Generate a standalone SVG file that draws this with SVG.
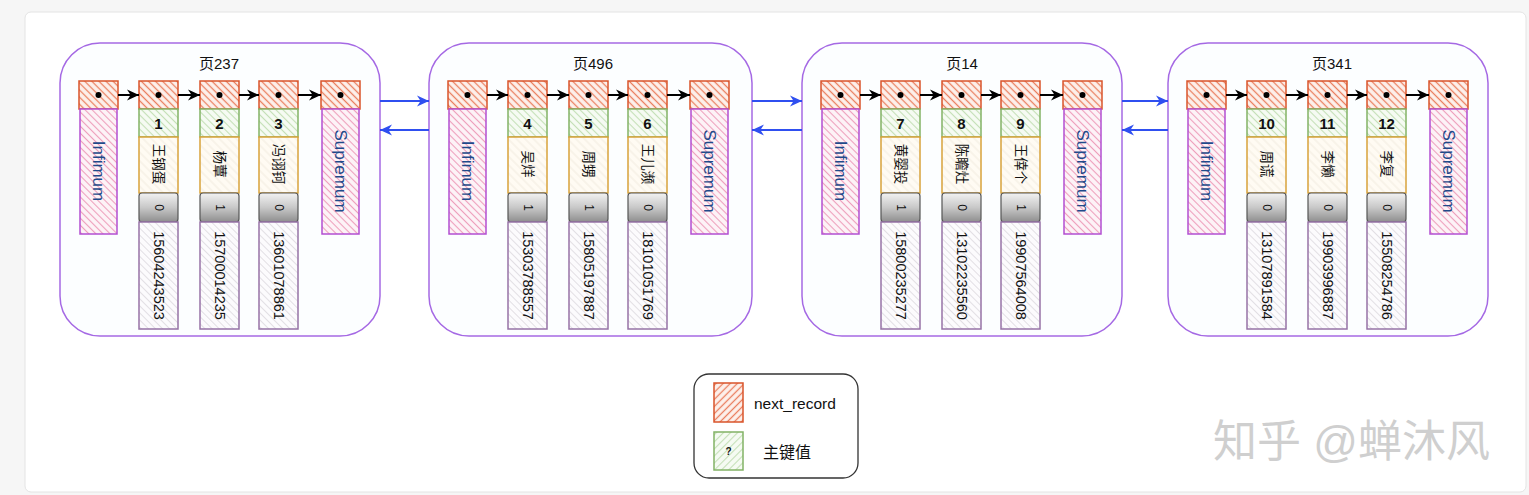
<svg xmlns="http://www.w3.org/2000/svg" width="1529" height="495" viewBox="0 0 1529 495">
<defs>
<pattern id="pRed" width="5" height="5" patternUnits="userSpaceOnUse" patternTransform="rotate(45)"><rect width="5" height="5" fill="#fdf1ec"/><line x1="0" y1="2.5" x2="5" y2="2.5" stroke="#ea7f5f" stroke-width="1.3"/></pattern>
<pattern id="pRedL" width="5" height="5" patternUnits="userSpaceOnUse" patternTransform="rotate(-45)"><rect width="5" height="5" fill="#fdf1ec"/><line x1="0" y1="2.5" x2="5" y2="2.5" stroke="#ea7f5f" stroke-width="1.3"/></pattern>
<pattern id="pPink" width="5" height="5" patternUnits="userSpaceOnUse" patternTransform="rotate(45)"><rect width="5" height="5" fill="#fdf3f7"/><line x1="0" y1="2.5" x2="5" y2="2.5" stroke="#ee9fbc" stroke-width="1.1"/></pattern>
<pattern id="pGreen" width="5" height="5" patternUnits="userSpaceOnUse" patternTransform="rotate(45)"><rect width="5" height="5" fill="#f6fbf3"/><line x1="0" y1="2.5" x2="5" y2="2.5" stroke="#c4e0b6" stroke-width="1.1"/></pattern>
<pattern id="pGreenL" width="5" height="5" patternUnits="userSpaceOnUse" patternTransform="rotate(-45)"><rect width="5" height="5" fill="#f6fbf3"/><line x1="0" y1="2.5" x2="5" y2="2.5" stroke="#c4e0b6" stroke-width="1.1"/></pattern>
<pattern id="pCream" width="6" height="6" patternUnits="userSpaceOnUse" patternTransform="rotate(45)"><rect width="6" height="6" fill="#fffbf3"/><line x1="0" y1="3" x2="6" y2="3" stroke="#f1ebe0" stroke-width="1"/></pattern>
<pattern id="pGrey" width="5" height="5" patternUnits="userSpaceOnUse" patternTransform="rotate(45)"><rect width="5" height="5" fill="#fcfbfd"/><line x1="0" y1="2.5" x2="5" y2="2.5" stroke="#e2dfe4" stroke-width="1"/></pattern>
<linearGradient id="gGray" x1="0" y1="0" x2="0" y2="1"><stop offset="0" stop-color="#f2f2f2"/><stop offset="0.5" stop-color="#c8c8c8"/><stop offset="1" stop-color="#8e8e8e"/></linearGradient>
<marker id="mBlack" markerWidth="12" markerHeight="12" viewBox="0 0 10 10" refX="10" refY="5" orient="auto" markerUnits="userSpaceOnUse"><path d="M0,0.5 L10,5 L0,9.5 L3,5 z" fill="#000"/></marker>
<marker id="mBlue" markerWidth="12" markerHeight="12" viewBox="0 0 10 10" refX="10" refY="5" orient="auto" markerUnits="userSpaceOnUse"><path d="M0,0.5 L10,5 L0,9.5 L3,5 z" fill="#2f4ff0"/></marker>
<style>
.pg{fill:#fcfeff;stroke:#a569e4;stroke-width:1.5}
.hd{fill:url(#pRed);stroke:#d9542b;stroke-width:1.5}
.inf{fill:url(#pPink);stroke:#b24fd2;stroke-width:1.5}
.key{fill:url(#pGreen);stroke:#82b366;stroke-width:1.5}
.nm{fill:url(#pCream);stroke:#d8a33b;stroke-width:1.5}
.fl{fill:url(#gGray);stroke:#555;stroke-width:1.2}
.ph{fill:url(#pGrey);stroke:#9673a6;stroke-width:1.5}
.dot{fill:#000}
text{font-family:"Liberation Sans","Noto Sans CJK SC",sans-serif;fill:#111}
.ti{font-size:15px;text-anchor:middle;dominant-baseline:central}
.tk{font-size:15px;font-weight:bold;text-anchor:middle}
.tn{font-size:13.5px;text-anchor:middle;dominant-baseline:central}
.tf{font-size:12px;text-anchor:middle;dominant-baseline:central}
.tp{font-size:14.5px;text-anchor:middle;dominant-baseline:central}
.ts{font-size:17px;text-anchor:middle;dominant-baseline:central;fill:#1f4a8a}
.arr{stroke:#000;stroke-width:2;fill:none;marker-end:url(#mBlack)}
.barr{stroke:#2f4ff0;stroke-width:2;fill:none;marker-end:url(#mBlue)}
</style>
</defs>
<rect x="0" y="0" width="1529" height="495" fill="#f6f6f6"/>
<rect x="25" y="12" width="1501" height="480" rx="6" fill="#ffffff" stroke="#e4e4e4" stroke-width="1"/>

<!-- Page 237 -->
<g id="page237">
<rect class="pg" x="60" y="43" width="320" height="293" rx="40"/>
<text class="ti" x="219" y="63">页237</text>
<g id="inf1"><rect class="hd" x="79" y="81" width="39" height="28"/><circle class="dot" cx="98.5" cy="95" r="3"/><rect class="inf" x="80" y="109" width="37" height="125"/><text class="ts" x="98.5" y="171" transform="rotate(90 98.5 171)">Infimum</text></g>
<g id="rec1"><rect class="hd" x="139" y="81" width="39" height="28"/><circle class="dot" cx="158.5" cy="95" r="3"/><rect class="key" x="139" y="109" width="39" height="28"/><text class="tk" x="158.5" y="128.5">1</text><rect class="nm" x="139" y="137" width="39" height="56"/><text class="tn" x="158.5" y="164" transform="rotate(90 158.5 164)">王钢蛋</text><rect class="fl" x="139" y="193" width="39" height="29" rx="3"/><text class="tf" x="158.5" y="207.5" transform="rotate(90 158.5 207.5)">0</text><rect class="ph" x="139" y="222" width="39" height="107"/><text class="tp" x="158.5" y="275.5" transform="rotate(90 158.5 275.5)">15604243523</text></g>
<g id="rec2"><rect class="hd" x="200" y="81" width="39" height="28"/><circle class="dot" cx="219.5" cy="95" r="3"/><rect class="key" x="200" y="109" width="39" height="28"/><text class="tk" x="219.5" y="128.5">2</text><rect class="nm" x="200" y="137" width="39" height="56"/><text class="tn" x="219.5" y="164" transform="rotate(90 219.5 164)">杨蕈</text><rect class="fl" x="200" y="193" width="39" height="29" rx="3"/><text class="tf" x="219.5" y="207.5" transform="rotate(90 219.5 207.5)">1</text><rect class="ph" x="200" y="222" width="39" height="107"/><text class="tp" x="219.5" y="275.5" transform="rotate(90 219.5 275.5)">15700014235</text></g>
<g id="rec3"><rect class="hd" x="259" y="81" width="39" height="28"/><circle class="dot" cx="278.5" cy="95" r="3"/><rect class="key" x="259" y="109" width="39" height="28"/><text class="tk" x="278.5" y="128.5">3</text><rect class="nm" x="259" y="137" width="39" height="56"/><text class="tn" x="278.5" y="164" transform="rotate(90 278.5 164)">冯诩钶</text><rect class="fl" x="259" y="193" width="39" height="29" rx="3"/><text class="tf" x="278.5" y="207.5" transform="rotate(90 278.5 207.5)">0</text><rect class="ph" x="259" y="222" width="39" height="107"/><text class="tp" x="278.5" y="275.5" transform="rotate(90 278.5 275.5)">13601078861</text></g>
<g id="sup1"><rect class="hd" x="321" y="81" width="39" height="28"/><circle class="dot" cx="340.5" cy="95" r="3"/><rect class="inf" x="322" y="109" width="37" height="125"/><text class="ts" x="340.5" y="171" transform="rotate(90 340.5 171)">Supremum</text></g>
</g>

<!-- Page 496 -->
<g id="page496">
<rect class="pg" x="429" y="43" width="323" height="293" rx="40"/>
<text class="ti" x="593" y="63">页496</text>
<g id="inf2"><rect class="hd" x="448" y="81" width="39" height="28"/><circle class="dot" cx="467.5" cy="95" r="3"/><rect class="inf" x="449" y="109" width="37" height="125"/><text class="ts" x="467.5" y="171" transform="rotate(90 467.5 171)">Infimum</text></g>
<g id="rec4"><rect class="hd" x="508" y="81" width="39" height="28"/><circle class="dot" cx="527.5" cy="95" r="3"/><rect class="key" x="508" y="109" width="39" height="28"/><text class="tk" x="527.5" y="128.5">4</text><rect class="nm" x="508" y="137" width="39" height="56"/><text class="tn" x="527.5" y="164" transform="rotate(90 527.5 164)">吴烊</text><rect class="fl" x="508" y="193" width="39" height="29" rx="3"/><text class="tf" x="527.5" y="207.5" transform="rotate(90 527.5 207.5)">1</text><rect class="ph" x="508" y="222" width="39" height="107"/><text class="tp" x="527.5" y="275.5" transform="rotate(90 527.5 275.5)">15303788557</text></g>
<g id="rec5"><rect class="hd" x="569" y="81" width="39" height="28"/><circle class="dot" cx="588.5" cy="95" r="3"/><rect class="key" x="569" y="109" width="39" height="28"/><text class="tk" x="588.5" y="128.5">5</text><rect class="nm" x="569" y="137" width="39" height="56"/><text class="tn" x="588.5" y="164" transform="rotate(90 588.5 164)">周甥</text><rect class="fl" x="569" y="193" width="39" height="29" rx="3"/><text class="tf" x="588.5" y="207.5" transform="rotate(90 588.5 207.5)">1</text><rect class="ph" x="569" y="222" width="39" height="107"/><text class="tp" x="588.5" y="275.5" transform="rotate(90 588.5 275.5)">15805197887</text></g>
<g id="rec6"><rect class="hd" x="628" y="81" width="39" height="28"/><circle class="dot" cx="647.5" cy="95" r="3"/><rect class="key" x="628" y="109" width="39" height="28"/><text class="tk" x="647.5" y="128.5">6</text><rect class="nm" x="628" y="137" width="39" height="56"/><text class="tn" x="647.5" y="164" transform="rotate(90 647.5 164)">王儿濒</text><rect class="fl" x="628" y="193" width="39" height="29" rx="3"/><text class="tf" x="647.5" y="207.5" transform="rotate(90 647.5 207.5)">0</text><rect class="ph" x="628" y="222" width="39" height="107"/><text class="tp" x="647.5" y="275.5" transform="rotate(90 647.5 275.5)">18101051769</text></g>
<g id="sup2"><rect class="hd" x="690" y="81" width="39" height="28"/><circle class="dot" cx="709.5" cy="95" r="3"/><rect class="inf" x="691" y="109" width="37" height="125"/><text class="ts" x="709.5" y="171" transform="rotate(90 709.5 171)">Supremum</text></g>
</g>

<!-- Page 14 -->
<g id="page14">
<rect class="pg" x="802" y="43" width="320" height="293" rx="40"/>
<text class="ti" x="962" y="63">页14</text>
<g id="inf3"><rect class="hd" x="821" y="81" width="39" height="28"/><circle class="dot" cx="840.5" cy="95" r="3"/><rect class="inf" x="822" y="109" width="37" height="125"/><text class="ts" x="840.5" y="171" transform="rotate(90 840.5 171)">Infimum</text></g>
<g id="rec7"><rect class="hd" x="881" y="81" width="39" height="28"/><circle class="dot" cx="900.5" cy="95" r="3"/><rect class="key" x="881" y="109" width="39" height="28"/><text class="tk" x="900.5" y="128.5">7</text><rect class="nm" x="881" y="137" width="39" height="56"/><text class="tn" x="900.5" y="164" transform="rotate(90 900.5 164)">黄婴投</text><rect class="fl" x="881" y="193" width="39" height="29" rx="3"/><text class="tf" x="900.5" y="207.5" transform="rotate(90 900.5 207.5)">1</text><rect class="ph" x="881" y="222" width="39" height="107"/><text class="tp" x="900.5" y="275.5" transform="rotate(90 900.5 275.5)">15800235277</text></g>
<g id="rec8"><rect class="hd" x="942" y="81" width="39" height="28"/><circle class="dot" cx="961.5" cy="95" r="3"/><rect class="key" x="942" y="109" width="39" height="28"/><text class="tk" x="961.5" y="128.5">8</text><rect class="nm" x="942" y="137" width="39" height="56"/><text class="tn" x="961.5" y="164" transform="rotate(90 961.5 164)">陈瞻灶</text><rect class="fl" x="942" y="193" width="39" height="29" rx="3"/><text class="tf" x="961.5" y="207.5" transform="rotate(90 961.5 207.5)">0</text><rect class="ph" x="942" y="222" width="39" height="107"/><text class="tp" x="961.5" y="275.5" transform="rotate(90 961.5 275.5)">13102235560</text></g>
<g id="rec9"><rect class="hd" x="1001" y="81" width="39" height="28"/><circle class="dot" cx="1020.5" cy="95" r="3"/><rect class="key" x="1001" y="109" width="39" height="28"/><text class="tk" x="1020.5" y="128.5">9</text><rect class="nm" x="1001" y="137" width="39" height="56"/><text class="tn" x="1020.5" y="164" transform="rotate(90 1020.5 164)">王倖个</text><rect class="fl" x="1001" y="193" width="39" height="29" rx="3"/><text class="tf" x="1020.5" y="207.5" transform="rotate(90 1020.5 207.5)">1</text><rect class="ph" x="1001" y="222" width="39" height="107"/><text class="tp" x="1020.5" y="275.5" transform="rotate(90 1020.5 275.5)">19907564008</text></g>
<g id="sup3"><rect class="hd" x="1063" y="81" width="39" height="28"/><circle class="dot" cx="1082.5" cy="95" r="3"/><rect class="inf" x="1064" y="109" width="37" height="125"/><text class="ts" x="1082.5" y="171" transform="rotate(90 1082.5 171)">Supremum</text></g>
</g>

<!-- Page 341 -->
<g id="page341">
<rect class="pg" x="1168" y="43" width="320" height="293" rx="40"/>
<text class="ti" x="1332" y="63">页341</text>
<g id="inf4"><rect class="hd" x="1187" y="81" width="39" height="28"/><circle class="dot" cx="1206.5" cy="95" r="3"/><rect class="inf" x="1188" y="109" width="37" height="125"/><text class="ts" x="1206.5" y="171" transform="rotate(90 1206.5 171)">Infimum</text></g>
<g id="rec10"><rect class="hd" x="1247" y="81" width="39" height="28"/><circle class="dot" cx="1266.5" cy="95" r="3"/><rect class="key" x="1247" y="109" width="39" height="28"/><text class="tk" x="1266.5" y="128.5">10</text><rect class="nm" x="1247" y="137" width="39" height="56"/><text class="tn" x="1266.5" y="164" transform="rotate(90 1266.5 164)">周谎</text><rect class="fl" x="1247" y="193" width="39" height="29" rx="3"/><text class="tf" x="1266.5" y="207.5" transform="rotate(90 1266.5 207.5)">0</text><rect class="ph" x="1247" y="222" width="39" height="107"/><text class="tp" x="1266.5" y="275.5" transform="rotate(90 1266.5 275.5)">13107891584</text></g>
<g id="rec11"><rect class="hd" x="1308" y="81" width="39" height="28"/><circle class="dot" cx="1327.5" cy="95" r="3"/><rect class="key" x="1308" y="109" width="39" height="28"/><text class="tk" x="1327.5" y="128.5">11</text><rect class="nm" x="1308" y="137" width="39" height="56"/><text class="tn" x="1327.5" y="164" transform="rotate(90 1327.5 164)">李懒</text><rect class="fl" x="1308" y="193" width="39" height="29" rx="3"/><text class="tf" x="1327.5" y="207.5" transform="rotate(90 1327.5 207.5)">0</text><rect class="ph" x="1308" y="222" width="39" height="107"/><text class="tp" x="1327.5" y="275.5" transform="rotate(90 1327.5 275.5)">19903996887</text></g>
<g id="rec12"><rect class="hd" x="1367" y="81" width="39" height="28"/><circle class="dot" cx="1386.5" cy="95" r="3"/><rect class="key" x="1367" y="109" width="39" height="28"/><text class="tk" x="1386.5" y="128.5">12</text><rect class="nm" x="1367" y="137" width="39" height="56"/><text class="tn" x="1386.5" y="164" transform="rotate(90 1386.5 164)">李复</text><rect class="fl" x="1367" y="193" width="39" height="29" rx="3"/><text class="tf" x="1386.5" y="207.5" transform="rotate(90 1386.5 207.5)">0</text><rect class="ph" x="1367" y="222" width="39" height="107"/><text class="tp" x="1386.5" y="275.5" transform="rotate(90 1386.5 275.5)">15508254786</text></g>
<g id="sup4"><rect class="hd" x="1429" y="81" width="39" height="28"/><circle class="dot" cx="1448.5" cy="95" r="3"/><rect class="inf" x="1430" y="109" width="37" height="125"/><text class="ts" x="1448.5" y="171" transform="rotate(90 1448.5 171)">Supremum</text></g>
</g>

<g id="connectors">
<path class="arr" d="M118,95 H139"/><path class="arr" d="M178,95 H200"/><path class="arr" d="M239,95 H259"/><path class="arr" d="M298,95 H321"/>
<path class="arr" d="M487,95 H508"/><path class="arr" d="M547,95 H569"/><path class="arr" d="M608,95 H628"/><path class="arr" d="M667,95 H690"/>
<path class="arr" d="M860,95 H881"/><path class="arr" d="M920,95 H942"/><path class="arr" d="M981,95 H1001"/><path class="arr" d="M1040,95 H1063"/>
<path class="arr" d="M1226,95 H1247"/><path class="arr" d="M1286,95 H1308"/><path class="arr" d="M1347,95 H1367"/><path class="arr" d="M1406,95 H1429"/>
<path class="barr" d="M380,101 H429"/><path class="barr" d="M429,130 H380"/>
<path class="barr" d="M752,101 H802"/><path class="barr" d="M802,130 H752"/>
<path class="barr" d="M1122,101 H1168"/><path class="barr" d="M1168,130 H1122"/>
</g>

<g id="legend">
<rect x="694" y="374" width="164" height="104" rx="15" fill="#ffffff" stroke="#333333" stroke-width="1.3"/>
<rect x="714" y="383" width="29" height="39" fill="url(#pRedL)" stroke="#d9542b" stroke-width="1.5"/>
<text x="754" y="409" style="font-size:15.5px">next_record</text>
<rect x="714" y="432" width="29" height="38" fill="url(#pGreenL)" stroke="#82b366" stroke-width="1.5"/>
<text x="728.5" y="455" style="font-size:10px;font-weight:bold;text-anchor:middle">?</text>
<text x="763" y="458" style="font-size:16px">主键值</text>
</g>

<text id="watermark" x="1213" y="457" style="font-size:44px;fill:#cfcfcf">知乎 @蝉沐风</text>
</svg>
